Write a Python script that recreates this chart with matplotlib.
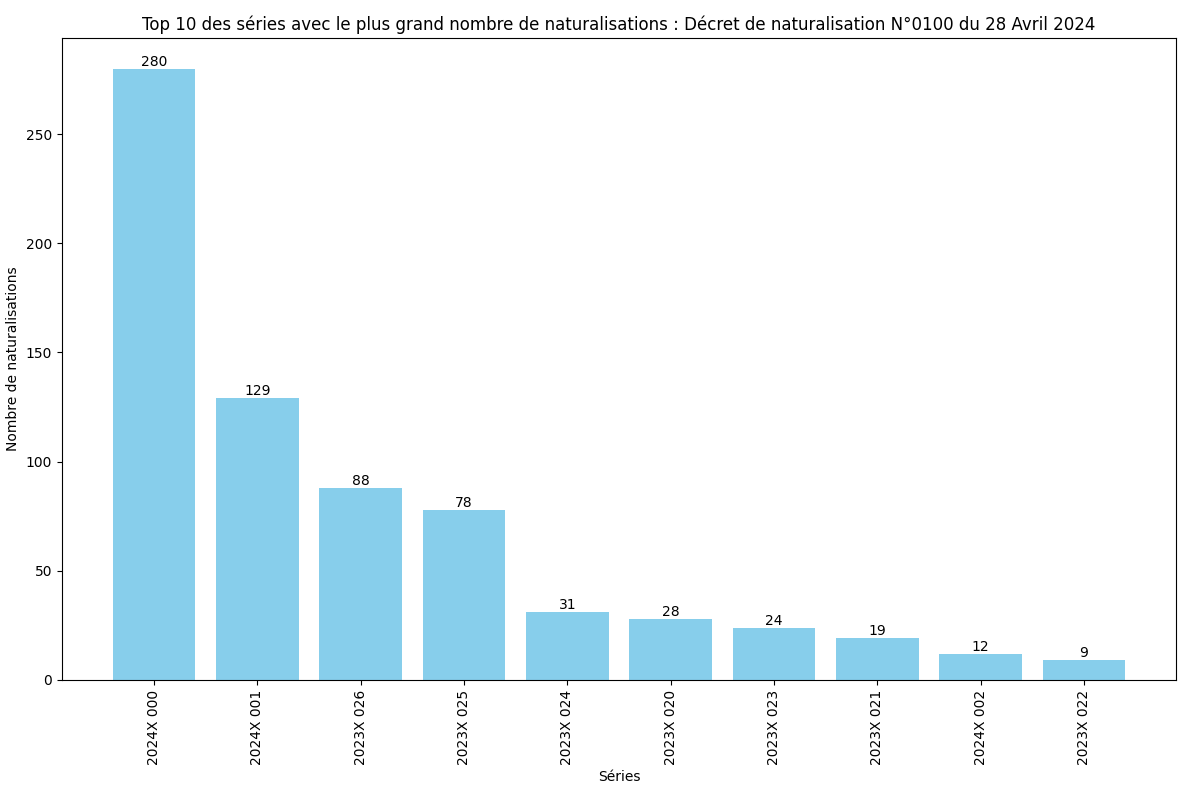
import matplotlib.pyplot as plt

series = ['2024X 000', '2024X 001', '2023X 026', '2023X 025', '2023X 024',
          '2023X 020', '2023X 023', '2023X 021', '2024X 002', '2023X 022']
counts = [280, 129, 88, 78, 31, 28, 24, 19, 12, 9]

fig, ax = plt.subplots(figsize=(11.85, 7.87), dpi=100)
bars = ax.bar(series, counts, color='skyblue')
for b, v in zip(bars, counts):
    ax.text(b.get_x() + b.get_width() / 2, b.get_height(), str(v),
            ha='center', va='bottom', fontsize=10)

ax.set_title('Top 10 des séries avec le plus grand nombre de naturalisations : '
             'Décret de naturalisation N°0100 du 28 Avril 2024')
ax.set_xlabel('Séries')
ax.set_ylabel('Nombre de naturalisations')
plt.xticks(rotation=90)
fig.subplots_adjust(left=0.0523, right=0.9924, top=0.9517, bottom=0.136)
fig.savefig('out.png', dpi=100)
